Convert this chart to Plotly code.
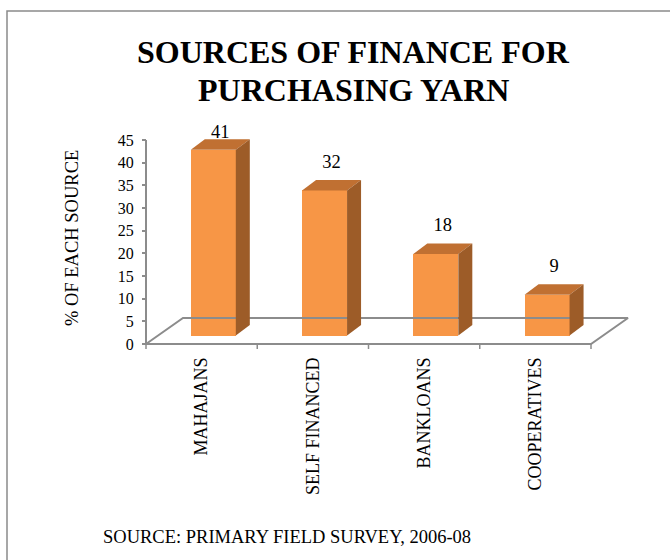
import plotly.graph_objects as go

# ---- data ----
categories = ["MAHAJANS", "SELF FINANCED", "BANKLOANS", "COOPERATIVES"]
values = [41, 32, 18, 9]
y_ticks = [0, 5, 10, 15, 20, 25, 30, 35, 40, 45]

title_lines = ["SOURCES OF FINANCE FOR", "PURCHASING YARN"]
y_title = "% OF EACH SOURCE"
source_text = "SOURCE: PRIMARY FIELD SURVEY, 2006-08"

# ---- geometry / styles ----
W, H = 670, 560
FONT = "Liberation Serif"
FRONT = "#F79646"
TOP = "#C07032"
SIDE = "#9D5C28"
GRAY = "#8C8C8C"

# pixel mapping of the plot (front floor edge 0..4 categories, values 0..45)
X0_PX, XPU = 146.0, 111.25      # pixel of x=0, pixels per category
Y0_PX, YPU = 344.0, 4.533       # pixel of y=0, pixels per value unit
DOM_X = (100, 660)
DOM_Y = (120, 360)

x_range = [(DOM_X[0] - X0_PX) / XPU, (DOM_X[1] - X0_PX) / XPU]
y_range = [(Y0_PX - DOM_Y[1]) / YPU, (Y0_PX - DOM_Y[0]) / YPU]

n = len(categories)
floor_dx = 37 / XPU          # depth of floor in x units
floor_dy = 26 / YPU          # depth of floor in y units
bar_shift = 0.105            # bar placement in depth (x)
bar_base = 8.5 / YPU         # bar placement in depth (y)
bar_w = 45 / XPU
dx = 14 / XPU                # bar depth
dy = 10.5 / YPU

fig = go.Figure()

# floor
line = dict(color=GRAY, width=2)
fig.add_trace(go.Scatter(
    x=[0, floor_dx, n + floor_dx, n, 0],
    y=[0, floor_dy, floor_dy, 0, 0],
    mode="lines", line=line, hoverinfo="skip", showlegend=False))
# value axis line
fig.add_trace(go.Scatter(x=[0, 0], y=[0, y_ticks[-1]], mode="lines",
                         line=line, hoverinfo="skip", showlegend=False))
# category tick marks
tx, ty = [], []
for i in range(n + 1):
    tx += [i, i, None]
    ty += [0, -5 / YPU, None]
fig.add_trace(go.Scatter(x=tx, y=ty, mode="lines", line=dict(color=GRAY, width=1.5),
                         hoverinfo="skip", showlegend=False))

centers = [i + 0.5 + bar_shift for i in range(n)]

# front faces
fig.add_trace(go.Bar(
    x=centers, y=values, base=[bar_base] * n, width=bar_w,
    marker=dict(color=FRONT, line=dict(width=0)),
    showlegend=False, hoverinfo="skip"))

# top and side faces
for c, v in zip(centers, values):
    l, r = c - bar_w / 2, c + bar_w / 2
    t, b = bar_base + v, bar_base
    fig.add_trace(go.Scatter(
        x=[l, l + dx, r + dx, r, l], y=[t, t + dy, t + dy, t, t],
        fill="toself", fillcolor=TOP, mode="lines", line=dict(width=0, color=TOP),
        hoverinfo="skip", showlegend=False))
    fig.add_trace(go.Scatter(
        x=[r, r + dx, r + dx, r, r], y=[b, b + dy, t + dy, t, b],
        fill="toself", fillcolor=SIDE, mode="lines", line=dict(width=0, color=SIDE),
        hoverinfo="skip", showlegend=False))

# value labels
label_y = [min(bar_base + v + dy + 3.7, y_ticks[-1] + 1.5) for v in values]
fig.add_trace(go.Scatter(
    x=[c + dx / 2 for c in centers], y=label_y, mode="text",
    text=[str(v) for v in values],
    textfont=dict(family=FONT, size=18.5, color="#000000"),
    textposition="middle center", cliponaxis=False,
    hoverinfo="skip", showlegend=False))

fig.update_layout(
    width=W, height=H, margin=dict(l=0, r=0, t=0, b=0),
    paper_bgcolor="white", plot_bgcolor="rgba(0,0,0,0)",
    showlegend=False, bargap=0,
    xaxis=dict(
        domain=[DOM_X[0] / W, DOM_X[1] / W], range=x_range,
        anchor="free", position=1 - Y0_PX / H,
        tickmode="array", tickvals=[i + 0.5 for i in range(n)], ticktext=categories,
        tickangle=-90, ticks="", showgrid=False, zeroline=False, showline=False,
        ticklabelstandoff=9,
        tickfont=dict(family=FONT, size=18, color="#000000"),
    ),
    yaxis=dict(
        domain=[1 - DOM_Y[1] / H, 1 - DOM_Y[0] / H], range=y_range,
        anchor="free", position=X0_PX / W,
        tickmode="array", tickvals=y_ticks, ticks="outside", ticklen=4,
        tickcolor=GRAY, tickwidth=1.5,
        showgrid=False, zeroline=False, showline=False,
        ticklabelstandoff=5,
        tickfont=dict(family=FONT, size=16, color="#000000"),
    ),
)

# border
fig.add_shape(type="rect", xref="paper", yref="paper",
              x0=7 / W, x1=1.02, y0=-0.05, y1=1 - 11 / H,
              line=dict(color="#8A8A8A", width=1.5), fillcolor="rgba(0,0,0,0)", layer="below")

# titles
for k, (txt, ypx) in enumerate(zip(title_lines, [52, 90])):
    fig.add_annotation(text=txt, xref="paper", yref="paper", x=353 / W, y=1 - ypx / H,
                       xanchor="center", yanchor="middle", showarrow=False,
                       font=dict(family=FONT, size=32, color="#000000", weight="bold"))
fig.add_annotation(text=y_title, xref="paper", yref="paper", x=72 / W, y=1 - 238 / H,
                   xanchor="center", yanchor="middle", textangle=-90, showarrow=False,
                   font=dict(family=FONT, size=18.5, color="#000000"))
fig.add_annotation(text=source_text, xref="paper", yref="paper", x=101 / W, y=1 - 537 / H,
                   xanchor="left", yanchor="middle", showarrow=False,
                   font=dict(family=FONT, size=18.5, color="#000000"))

fig.write_html("out.html")
